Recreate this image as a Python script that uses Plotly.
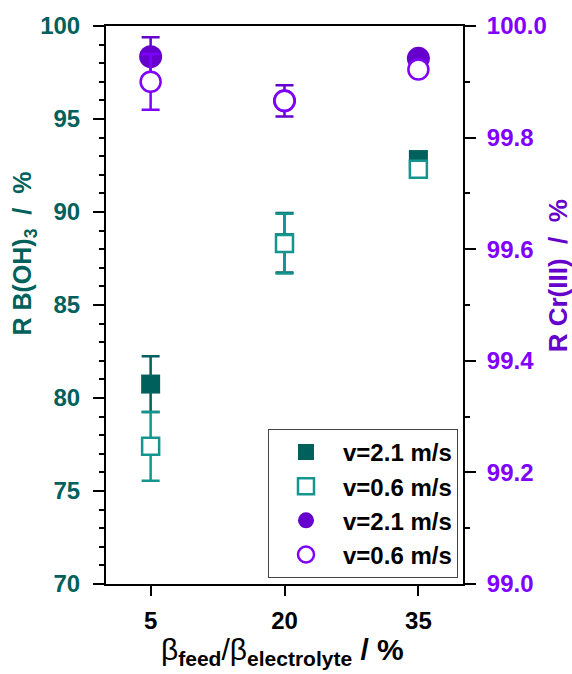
import plotly.graph_objects as go

# ---- data ----
beta_ratio = [5, 20, 35]
x_ticks = [5, 20, 35]
x_tick_labels = ["5", "20", "35"]

b_fast = [80.75, 88.35, 92.82]
b_fast_err = [1.5, 1.6, 0.26]
b_slow = [77.4, 88.3, 92.3]
b_slow_err = [1.85, 1.6, 0.2]

cr_fast = [99.945, 99.866, 99.942]
cr_fast_err = [0.035, 0.028, 0.003]
cr_slow = [99.90, 99.866, 99.922]
cr_slow_err = [0.05, 0.006, 0.005]

legend_labels = ["v=2.1 m/s", "v=0.6 m/s", "v=2.1 m/s", "v=0.6 m/s"]

C_TEAL_D = "#00605B"
C_TEAL = "#15958F"
C_PURP_D = "#6600CC"
C_PURP = "#8000FF"
FONT = "Liberation Sans, Arial, sans-serif"

fig = go.Figure()
fig.add_trace(go.Scatter(
    x=beta_ratio, y=b_fast, mode="markers", name=legend_labels[0],
    marker=dict(symbol="square", size=19, color=C_TEAL_D, line=dict(width=0)),
    error_y=dict(type="data", array=b_fast_err, color=C_TEAL_D, thickness=2.5, width=9),
))
fig.add_trace(go.Scatter(
    x=beta_ratio, y=b_slow, mode="markers", name=legend_labels[1],
    marker=dict(symbol="square", size=17, color="white", line=dict(width=2.5, color=C_TEAL)),
    error_y=dict(type="data", array=b_slow_err, color=C_TEAL, thickness=2.5, width=9),
))
fig.add_trace(go.Scatter(
    x=beta_ratio, y=cr_fast, mode="markers", name=legend_labels[2], yaxis="y2",
    marker=dict(symbol="circle", size=23, color=C_PURP_D, line=dict(width=0)),
    error_y=dict(type="data", array=cr_fast_err, color=C_PURP_D, thickness=2.5, width=9),
))
fig.add_trace(go.Scatter(
    x=beta_ratio, y=cr_slow, mode="markers", name=legend_labels[3], yaxis="y2",
    marker=dict(symbol="circle", size=20, color="white", line=dict(width=2.5, color=C_PURP)),
    error_y=dict(type="data", array=cr_slow_err, color=C_PURP, thickness=2.5, width=9),
))

fig.update_layout(
    width=572, height=674,
    margin=dict(l=106, r=109, t=20, b=90),
    paper_bgcolor="white", plot_bgcolor="white",
    font=dict(family=FONT, size=22, color="black"),
    showlegend=True,
    legend=dict(
        x=0.986, y=0.011, xanchor="right", yanchor="bottom",
        bordercolor="#444", borderwidth=1, bgcolor="white",
        font=dict(family=FONT, size=24, color="black", weight="bold"),
        tracegroupgap=0, itemwidth=64,
    ),
    xaxis=dict(
        range=[0, 40], tickvals=x_ticks, ticktext=x_tick_labels,
        showline=True, linewidth=2, linecolor="black", mirror=True,
        ticks="outside", ticklen=10, tickwidth=2, tickcolor="black",
        tickfont=dict(family=FONT, size=24, color="black", weight="bold"),
        ticklabelstandoff=4,
        showgrid=False, zeroline=False,
    ),
    yaxis=dict(
        range=[70, 100], dtick=5, tick0=70,
        showline=True, linewidth=2, linecolor="black",
        ticks="outside", ticklen=11, tickwidth=2, tickcolor="black",
        minor=dict(dtick=1, ticks="outside", ticklen=5, tickwidth=2, tickcolor="black"),
        tickfont=dict(family=FONT, size=24, color=C_TEAL_D, weight="bold"),
        ticklabelstandoff=8,
        showgrid=False, zeroline=False,
    ),
    yaxis2=dict(
        range=[99, 100], dtick=0.2, tick0=99, tickformat=".1f",
        overlaying="y", side="right",
        showline=True, linewidth=2, linecolor="black",
        ticks="outside", ticklen=11, tickwidth=2, tickcolor="black",
        minor=dict(dtick=0.1, ticks="outside", ticklen=5, tickwidth=2, tickcolor="black"),
        tickfont=dict(family=FONT, size=24, color=C_PURP, weight="bold"),
        ticklabelstandoff=6,
        showgrid=False, zeroline=False,
    ),
    annotations=[
        dict(text="<b>R B(OH)<sub>3</sub>  /  %</b>", xref="paper", yref="paper",
             x=-(106 - 24) / 357, y=(584 - 250) / 564, xanchor="center", yanchor="middle",
             textangle=-90, showarrow=False,
             font=dict(family=FONT, size=25, color=C_TEAL_D)),
        dict(text="<b>R Cr(III)  /  %</b>", xref="paper", yref="paper",
             x=1 + (558 - 463) / 357, y=(584 - 273) / 564, xanchor="center", yanchor="middle",
             textangle=-90, showarrow=False,
             font=dict(family=FONT, size=26, color=C_PURP_D)),
        dict(text="β<sub><b>feed</b></sub>/β<sub><b>electrolyte</b></sub><b> / %</b>",
             xref="paper", yref="paper",
             x=(282 - 106) / 357, y=-(652 - 584) / 564, xanchor="center", yanchor="middle",
             showarrow=False, font=dict(family=FONT, size=30, color="black")),
    ],
)

fig.write_html("out.html")
